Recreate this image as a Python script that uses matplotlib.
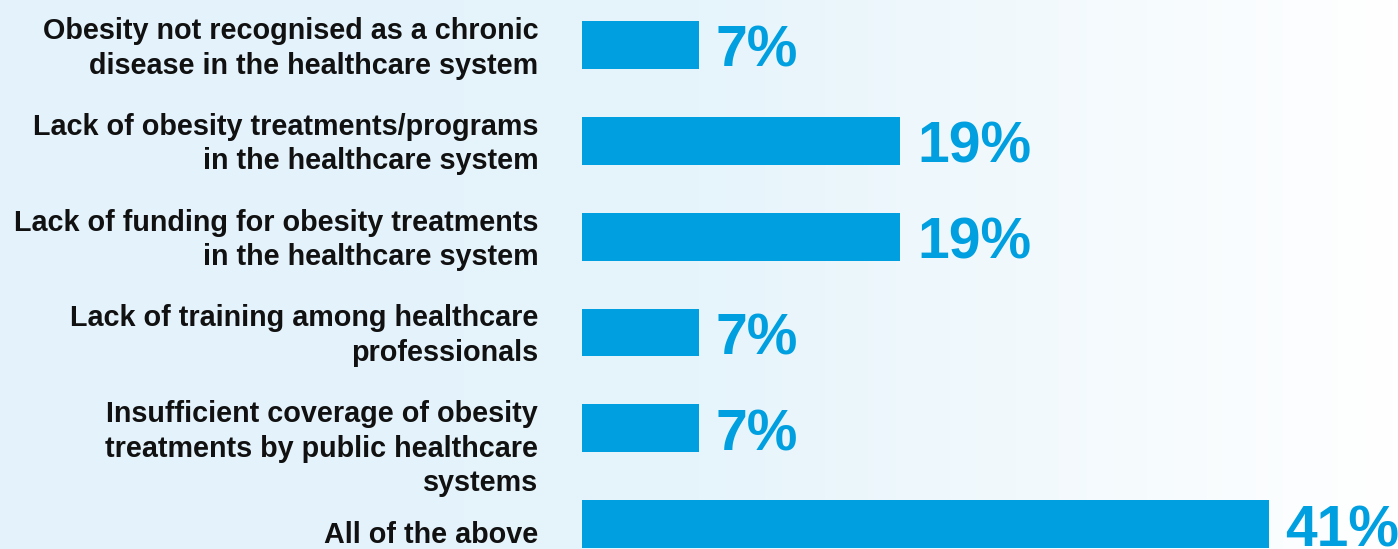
import matplotlib
matplotlib.use("Agg")
import matplotlib.pyplot as plt
import numpy as np
from matplotlib.colors import LinearSegmentedColormap

barriers = [
    "Obesity not recognised as a chronic\ndisease in the healthcare system",
    "Lack of obesity treatments/programs\nin the healthcare system",
    "Lack of funding for obesity treatments\nin the healthcare system",
    "Lack of training among healthcare\nprofessionals",
    "Insufficient coverage of obesity\ntreatments by public healthcare\nsystems",
    "All of the above",
]
shares = [7, 19, 19, 7, 7, 41]

bar_color = "#009FE0"
plt.rcParams["font.family"] = ["Liberation Sans", "DejaVu Sans"]

fig = plt.figure(figsize=(13.98, 5.49), dpi=100)

# soft horizontal wash behind everything
bg = fig.add_axes([0, 0, 1, 1], zorder=0)
wash = LinearSegmentedColormap.from_list("wash", ["#E3F2FB", "#E6F4FB", "#FFFFFF"])
bg.imshow(np.linspace(0, 1, 256).reshape(1, -1), cmap=wash, aspect="auto",
          extent=[0, 1, 0, 1])
bg.set_axis_off()

ax = fig.add_axes([582 / 1398, 0, 1 - 582 / 1398, 1], zorder=1)
ax.patch.set_alpha(0)

y = np.arange(len(shares))
bar_h = 0.5
ax.barh(y, shares, height=bar_h, color=bar_color)
ax.set_xlim(0, 816 / 16.75)
ax.set_ylim(5.26, -0.47)
ax.set_axis_off()

for yi, v, lab in zip(y, shares, barriers):
    ax.annotate(f"{v}%", (v, yi), xytext=(12, -5), textcoords="offset points",
                fontsize=41, fontweight="bold", color=bar_color,
                ha="left", va="center", annotation_clip=False)
    if "\n" in lab:
        # multi-line labels hang from the top edge of their bar
        ax.annotate(lab, (0, yi - bar_h / 2), xytext=(-31.5, 3), textcoords="offset points",
                    fontsize=20.7, fontweight="bold", color="#111111",
                    ha="right", va="top", linespacing=1.3,
                    multialignment="right", annotation_clip=False)
    else:
        ax.annotate(lab, (0, yi), xytext=(-31.5, -8), textcoords="offset points",
                    fontsize=20.7, fontweight="bold", color="#111111",
                    ha="right", va="center", annotation_clip=False)

fig.savefig("out.png", dpi=100)
